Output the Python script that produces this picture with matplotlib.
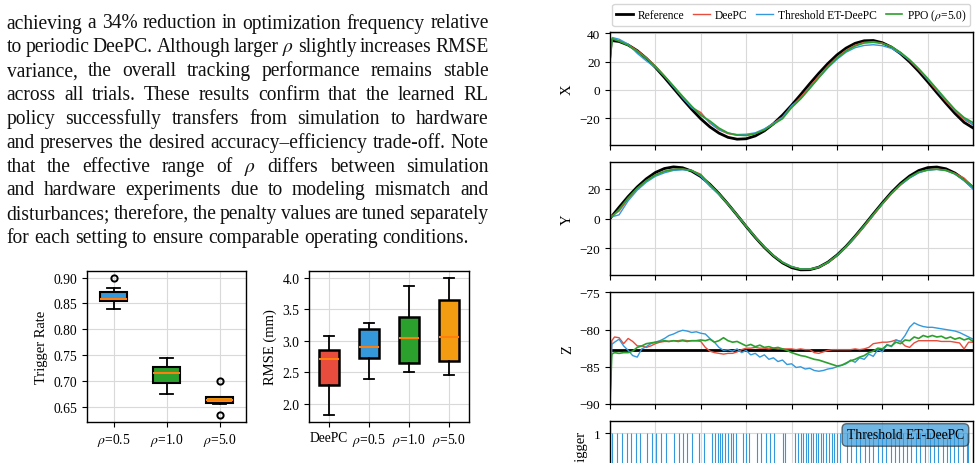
import numpy as np
import matplotlib.pyplot as plt
from matplotlib.ticker import MultipleLocator

plt.rcParams["font.family"] = ["Liberation Serif", "DejaVu Serif"]
plt.rcParams["mathtext.fontset"] = "stix"

c_red = "#e74c3c"
c_blue = "#3498db"
c_green = "#2ca02c"
c_orange = "#f39c12"
c_median = "#ff7f0e"

# paragraph text (one entry per printed line)
paragraph = [
    "achieving a 34% reduction in optimization frequency relative",
    "to periodic DeePC. Although larger $\\rho$ slightly increases RMSE",
    "variance, the overall tracking performance remains stable",
    "across all trials. These results confirm that the learned RL",
    "policy successfully transfers from simulation to hardware",
    "and preserves the desired accuracy\u2013efficiency trade-off. Note",
    "that the effective range of $\\rho$ differs between simulation",
    "and hardware experiments due to modeling mismatch and",
    "disturbances; therefore, the penalty values are tuned separately",
    "for each setting to ensure comparable operating conditions.",
]

# trigger-rate box statistics
trig_labels = ["$\\rho$=0.5", "$\\rho$=1.0", "$\\rho$=5.0"]
trig_q1 = [0.855, 0.696, 0.657]
trig_med = [0.858, 0.715, 0.663]
trig_q3 = [0.873, 0.728, 0.669]
trig_lo = [0.840, 0.675, 0.656]
trig_hi = [0.880, 0.745, 0.670]
trig_out = [[0.900], [], [0.700, 0.635]]
trig_colors = [c_blue, c_green, c_orange]

# RMSE box statistics
rmse_labels = ["DeePC", "$\\rho$=0.5", "$\\rho$=1.0", "$\\rho$=5.0"]
rmse_q1 = [2.30, 2.73, 2.65, 2.68]
rmse_med = [2.71, 2.90, 3.05, 3.06]
rmse_q3 = [2.86, 3.19, 3.38, 3.64]
rmse_lo = [1.83, 2.39, 2.50, 2.46]
rmse_hi = [3.07, 3.28, 3.86, 4.00]
rmse_colors = [c_red, c_blue, c_green, c_orange]

# time series (s)
t_ref = np.arange(0, 81, 2)
t_trk = np.array([0, 0.5] + list(range(2, 81, 2)))
t_z = np.array([0, 0.4] + list(range(1, 81)))

ref_x = [35.0, 34.2, 31.7, 27.7, 22.3, 15.9, 8.7, 1.1, -6.5, -13.8,
         -20.5, -26.2, -30.6, -33.6, -34.9, -34.6, -32.6, -29.0, -24.0, -17.9,
         -10.9, -3.4, 4.3, 11.7, 18.6, 24.7, 29.5, 32.9, 34.7, 34.9,
         33.3, 30.2, 25.6, 19.8, 13.1, 5.7, -2.0, -9.5, -16.7, -23.0,
         -27.0]
deepc_x = [20.0, 36.0, 34.8, 32.0, 27.8, 22.8, 16.8, 9.8, 2.4, -5.2,
           -12.4, -16.0, -23.5, -28.3, -31.0, -32.1, -32.2, -30.9, -28.0, -23.6,
           -19.2, -11.8, -5.2, 2.3, 9.7, 16.8, 23.0, 28.0, 31.6, 33.6,
           34.1, 33.0, 30.4, 26.2, 20.7, 14.3, 7.0, -0.6, -8.0, -15.0,
           -21.0, -24.8]
thr_x = [20.0, 37.0, 35.8, 32.3, 25.8, 20.5, 15.8, 9.5, 2.0, -5.6,
         -12.6, -17.2, -23.2, -28.0, -30.6, -31.6, -31.4, -30.4, -27.6, -23.8,
         -19.6, -11.2, -6.2, 1.2, 8.6, 15.6, 21.6, 26.6, 29.8, 31.4,
         31.9, 31.2, 29.3, 25.6, 20.9, 14.6, 7.5, 0.1, -7.4, -14.3,
         -20.2, -24.6]
ppo_x = [20.0, 36.2, 34.4, 31.5, 27.2, 22.2, 16.6, 9.8, 2.6, -4.6,
         -11.6, -18.0, -22.0, -27.0, -30.5, -32.0, -32.3, -31.0, -28.4, -24.4,
         -20.4, -12.6, -6.4, 1.0, 8.6, 16.0, 22.4, 27.4, 31.0, 33.1,
         33.6, 32.8, 30.5, 26.5, 21.3, 15.0, 8.0, 0.6, -6.8, -14.0,
         -19.6, -23.2]

ref_y = [0.0, 7.6, 14.9, 21.4, 26.9, 31.2, 33.9, 35.0, 34.4, 32.1,
         28.4, 23.2, 16.9, 9.8, 2.3, -5.4, -12.8, -19.6, -25.4, -30.1,
         -33.3, -34.8, -34.7, -33.0, -29.6, -24.8, -18.9, -12.0, -4.6, 3.1,
         10.6, 17.7, 23.8, 28.8, 32.5, 34.5, 34.9, 33.7, 30.8, 26.4,
         20.8]
deepc_y = [1.5, 2.0, 5.0, 13.2, 20.2, 25.7, 29.6, 32.0, 33.3, 33.5,
           32.6, 30.0, 22.8, 16.6, 9.8, 2.4, -5.2, -12.5, -19.4, -25.0,
           -29.6, -32.6, -34.2, -34.5, -33.1, -30.0, -25.4, -19.6, -12.9, -5.6,
           2.0, 9.6, 16.6, 22.6, 27.6, 31.1, 33.0, 33.5, 32.9, 30.6,
           27.4, 21.0]
thr_y = [1.0, 1.2, 2.5, 12.0, 19.2, 24.6, 28.6, 31.0, 32.6, 33.0,
         32.4, 28.6, 21.8, 16.4, 9.7, 2.3, -5.3, -12.6, -19.2, -25.1,
         -29.6, -32.6, -34.2, -34.4, -33.0, -29.8, -25.0, -19.2, -12.4, -5.0,
         2.6, 10.0, 17.0, 22.8, 27.4, 31.0, 32.7, 33.3, 32.5, 30.1,
         25.6, 20.0]
ppo_y = [0.5, 1.5, 6.2, 14.0, 20.6, 25.6, 29.5, 32.0, 33.3, 33.5,
         32.5, 29.4, 23.0, 16.8, 9.8, 2.3, -5.3, -12.6, -19.4, -25.2,
         -29.8, -32.8, -34.3, -34.4, -33.0, -29.7, -25.0, -19.0, -12.2, -4.8,
         2.8, 10.2, 17.2, 23.2, 28.0, 31.5, 33.0, 33.4, 32.6, 30.3,
         26.2, 21.5]

t_ref_z = [0, 80]
ref_z = [-82.7, -82.7]
deepc_z = [-89.8, -81.5,
           -81.0, -81.1, -81.9, -81.2, -81.6, -82.2, -82.2, -82.4, -82.2, -81.9,
           -81.7, -81.6, -81.6, -81.5, -81.5, -81.4, -81.5, -81.5, -81.5, -81.6,
           -82.4, -82.9, -83.1, -83.2, -83.3, -83.2, -83.2, -83.0, -82.7, -82.5,
           -82.5, -82.4, -82.5, -82.5, -82.6, -82.5, -82.6, -82.6, -82.6, -82.6,
           -82.7, -82.6, -82.7, -82.7, -83.1, -83.2, -83.0, -82.8, -82.7, -82.7,
           -82.7, -82.7, -82.7, -82.6, -82.7, -82.6, -82.4, -81.9, -81.8, -81.7,
           -81.7, -81.6, -81.4, -81.6, -82.2, -82.4, -81.8, -81.5, -81.5, -81.5,
           -81.5, -81.5, -81.6, -81.6, -81.6, -81.7, -81.8, -82.6, -81.7, -81.7]
thr_z = [-89.5, -82.0,
         -81.7, -81.3, -82.2, -82.8, -83.5, -83.7, -82.6, -82.3, -81.9, -81.7,
         -81.5, -81.2, -80.8, -80.6, -80.3, -80.1, -80.2, -80.4, -80.3, -80.5,
         -80.6, -81.2, -81.7, -82.4, -82.8, -82.7, -82.9, -82.6, -83.1, -82.8,
         -83.4, -83.2, -83.7, -83.4, -84.0, -83.8, -84.3, -84.1, -84.7, -84.6,
         -85.1, -85.0, -85.3, -85.2, -85.5, -85.6, -85.5, -85.3, -85.2, -85.0,
         -84.8, -84.6, -84.1, -84.4, -83.8, -84.0, -83.3, -83.6, -82.7, -83.0,
         -82.0, -82.3, -81.4, -81.6, -80.8, -79.7, -79.1, -79.4, -79.6, -79.7,
         -79.7, -79.8, -79.9, -80.0, -80.1, -80.2, -80.4, -80.7, -81.0, -81.3]
ppo_z = [-90.0, -83.3,
         -83.1, -83.2, -83.1, -83.1, -82.9, -82.4, -82.2, -81.9, -81.8, -81.7,
         -81.6, -81.5, -81.6, -81.5, -81.6, -81.5, -81.6, -81.5, -81.5, -81.4,
         -81.5, -81.3, -81.7, -81.5, -81.1, -81.5, -81.7, -81.6, -81.9, -82.2,
         -82.0, -82.3, -82.1, -82.4, -82.3, -82.5, -82.4, -82.6, -82.8, -83.1,
         -83.3, -83.5, -83.6, -83.8, -84.0, -84.1, -84.3, -84.5, -84.7, -84.9,
         -84.8, -84.5, -84.2, -84.0, -83.7, -83.5, -83.1, -82.9, -82.5, -82.6,
         -82.1, -82.2, -81.7, -81.9, -81.4, -81.5, -81.0, -81.2, -80.8, -81.0,
         -80.8, -81.0, -80.9, -81.2, -81.0, -81.3, -81.1, -81.4, -81.2, -81.6]

trigger_times = [0.5, 1.6, 2.6, 3.8, 4.7, 5.7, 6.5, 8.1, 9.3, 10.1, 11.2, 12.3,
                 14.1, 15.1, 16.0, 17.0, 18.0, 19.5, 20.6, 22.5, 23.1, 23.7,
                 24.2, 24.7, 25.3, 25.9, 26.6, 27.2, 27.8, 29.4, 30.0, 30.7,
                 32.3, 33.3, 34.4, 35.2, 36.2, 38.2, 38.5, 40.7, 41.5, 42.0,
                 42.6, 43.2, 43.7, 44.3, 44.8, 45.4, 45.9, 46.4, 47.0, 47.6,
                 48.2, 48.8, 49.4, 50.1, 50.7, 52.1, 53.2, 54.2, 55.1, 56.2,
                 57.1, 58.0, 59.1, 60.0, 60.9, 61.8, 62.8, 63.7, 64.6, 65.5,
                 66.4, 67.5, 68.4, 69.4, 70.5, 71.4, 72.3, 73.3, 74.2, 74.9,
                 75.8, 76.7, 77.7, 78.6, 78.9]

W, H = 980, 464
fig = plt.figure(figsize=(W / 100, H / 100), dpi=100)
renderer = fig.canvas.get_renderer()


def px_axes(x0, y0, x1, y1):
    # pixel box (top-left origin) -> figure axes
    return fig.add_axes([x0 / W, 1 - y1 / H, (x1 - x0) / W, (y1 - y0) / H])


# ---------------- paragraph (justified) ----------------
left_px, right_px = 6.5, 488.5
probe = fig.text(0, 0, paragraph[-1], fontsize=14)
nat = probe.get_window_extent(renderer).width
probe.remove()
fs = 14 * 465 / nat
space = 0.25 * fs * 100 / 72
for i, line in enumerate(paragraph):
    y = 1 - (28.5 + 23.85 * i) / H
    words = line.split(" ")
    txts = [fig.text(0, y, w, fontsize=fs, va="baseline", color="#111111") for w in words]
    widths = [t.get_window_extent(renderer).width for t in txts]
    if i < len(paragraph) - 1:
        gap = (right_px - left_px - sum(widths)) / (len(words) - 1)
    else:
        gap = space
    x = left_px
    for t, w in zip(txts, widths):
        t.set_x(x / W)
        x += w + gap


def style_box(ax, bp, colors, lw):
    for patch, c in zip(bp["boxes"], colors):
        patch.set_facecolor(c)
        patch.set_edgecolor("black")
        patch.set_linewidth(lw)
    ax.grid(True, color="#d9d9d9", lw=0.8)
    ax.set_axisbelow(True)
    ax.tick_params(labelsize=9.8)
    for s in ax.spines.values():
        s.set_linewidth(1.0)


def make_stats(labels, q1, med, q3, lo, hi, out=None):
    stats = []
    for k in range(len(labels)):
        stats.append(dict(label=labels[k], q1=q1[k], med=med[k], q3=q3[k],
                          whislo=lo[k], whishi=hi[k],
                          fliers=out[k] if out else []))
    return stats


box_kw = dict(patch_artist=True, widths=0.5,
              medianprops=dict(color=c_median, lw=1.5),
              whiskerprops=dict(lw=1.3), capprops=dict(lw=1.3),
              flierprops=dict(marker="o", mfc="none", mec="black", ms=4.5, mew=1.4))

ax_tr = px_axes(87, 271.7, 246, 422.7)
bp = ax_tr.bxp(make_stats(trig_labels, trig_q1, trig_med, trig_q3, trig_lo, trig_hi, trig_out), **box_kw)
style_box(ax_tr, bp, trig_colors, 1.5)
ax_tr.set_ylabel("Trigger Rate", fontsize=10.5)
ax_tr.set_yticks([0.65, 0.70, 0.75, 0.80, 0.85, 0.90])

ax_rm = px_axes(309, 271.7, 469, 422.7)
bp = ax_rm.bxp(make_stats(rmse_labels, rmse_q1, rmse_med, rmse_q3, rmse_lo, rmse_hi), **box_kw)
style_box(ax_rm, bp, rmse_colors, 1.8)
ax_rm.set_ylabel("RMSE (mm)", fontsize=10.5)
ax_rm.set_yticks([2.0, 2.5, 3.0, 3.5, 4.0])

# ---------------- time series panels ----------------
ax_x = px_axes(610, 33, 972.7, 145.7)
ax_y = px_axes(610, 163.3, 972.7, 275.7)
ax_zz = px_axes(610, 293.3, 972.7, 405)
ax_t = px_axes(610, 422.3, 972.7, 482)

series = [(ax_x, ref_x, deepc_x, thr_x, ppo_x, "X"),
          (ax_y, ref_y, deepc_y, thr_y, ppo_y, "Y")]
for ax, r, d, th, p, lab in series:
    ax.plot(t_ref, r, color="black", lw=2.0, label="Reference")
    ax.plot(t_trk, d, color=c_red, lw=1.0, label="DeePC")
    ax.plot(t_trk, th, color=c_blue, lw=1.0, label="Threshold ET-DeePC")
    ax.plot(t_trk, p, color=c_green, lw=1.2, label="PPO ($\\rho$=5.0)")
    ax.set_ylabel(lab, fontsize=10.5)

ax_zz.plot(t_ref_z, ref_z, color="black", lw=2.0)
ax_zz.plot(t_z, deepc_z, color=c_red, lw=1.0)
ax_zz.plot(t_z, thr_z, color=c_blue, lw=1.0)
ax_zz.plot(t_z, ppo_z, color=c_green, lw=1.2)
ax_zz.set_ylabel("Z", fontsize=10.5)

ax_t.vlines(trigger_times, 0, 1, color=c_blue, lw=0.8)
ax_t.set_ylabel("Trigger", fontsize=10.5)
ax_t.text(0.976, 0.88, "Threshold ET-DeePC", transform=ax_t.transAxes,
          ha="right", va="top", fontsize=9.8,
          bbox=dict(boxstyle="round,pad=0.35", fc=c_blue, alpha=0.7, ec="#333333"))

ax_x.set_ylim(-38.8, 40.9)
ax_x.set_yticks([-20, 0, 20, 40])
ax_y.set_ylim(-38.1, 38.1)
ax_y.set_yticks([-20, 0, 20])
ax_zz.set_ylim(-90, -75)
ax_zz.set_yticks([-90, -85, -80, -75])
ax_t.set_ylim(0, 1.25)
ax_t.set_yticks([0, 1])

for ax in (ax_x, ax_y, ax_zz, ax_t):
    ax.set_xlim(0, 79.9)
    ax.xaxis.set_major_locator(MultipleLocator(10))
    ax.tick_params(labelsize=9.5, labelbottom=False)
    ax.grid(True, color="#d9d9d9", lw=0.8)
    ax.set_axisbelow(True)
    for s in ax.spines.values():
        s.set_linewidth(1.0)

ax_x.legend(loc="lower center", bbox_to_anchor=(0.5, 1.05), ncol=4,
            fontsize=8.3, frameon=True, edgecolor="#cccccc", borderaxespad=0,
            handlelength=1.45, columnspacing=0.8, handletextpad=0.4, borderpad=0.3)

fig.savefig("out.png", dpi=100)
